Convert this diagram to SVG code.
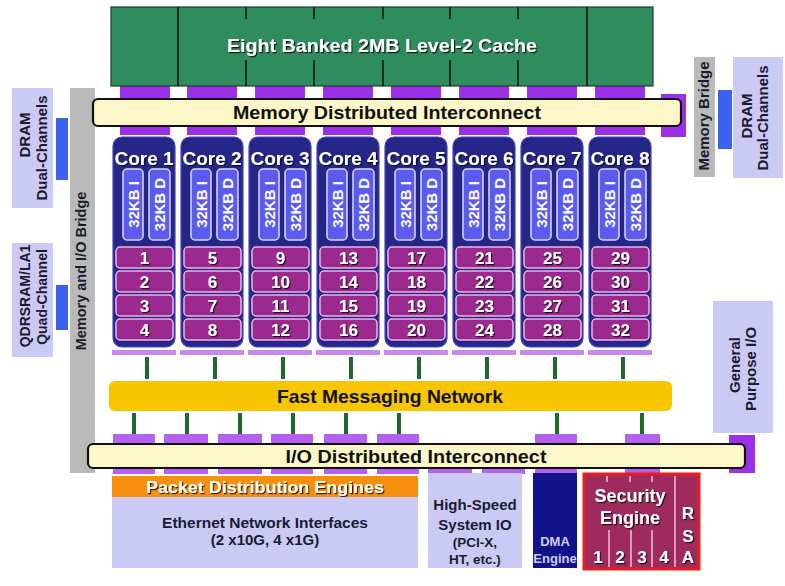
<svg xmlns="http://www.w3.org/2000/svg" width="785" height="586" viewBox="0 0 785 586">
<defs>
<filter id="sh" x="-10%" y="-20%" width="125%" height="150%">
<feDropShadow dx="1.2" dy="1.2" stdDeviation="0.6" flood-color="#000" flood-opacity="0.8"/>
</filter>
</defs>
<style>
text{font-family:"Liberation Sans",Arial,sans-serif;font-weight:bold;text-anchor:middle}
.core{fill:#262688;stroke:#4646b4;stroke-width:1.2}
.l1{fill:#5b5bef;stroke:#dcdcfa;stroke-width:1.5}
.th{fill:#9c2a8e;stroke:#e6b8e6;stroke-width:1.5}
.cl{font-size:19px;fill:#fff;filter:url(#sh)}
.n{font-size:17px;fill:#fff;filter:url(#sh)}
.kb{font-size:15px;fill:#fff}
.tab{fill:#9b30e8}
.iotab{fill:#b460f0}
.strip{fill:#c58af2}
.g{stroke:#1d6a2c;stroke-width:4}
.lav{fill:#cacaf4}
.blue{fill:#3a62ee}
.gray{fill:#b9b9b9}
.dk{fill:#1a1a30}
.bar{fill:#fbf7c8;stroke:#111;stroke-width:2.2}
.bt{font-size:19px;fill:#111}
.div{stroke:#111;stroke-width:1.5}
.sec{stroke:#eac4d6;stroke-width:1.5}
</style>
<rect width="785" height="586" fill="#fff"/>

<g id="memory-io-bridge">
<rect class="gray" x="70" y="88" width="25" height="385"/>
<text class="dk" font-size="14.5" transform="translate(86,271) rotate(-90)">Memory and I/O Bridge</text>
</g>

<g id="connectors">
<rect class="tab" x="120" y="86" width="50" height="49"/>
<rect class="tab" x="187" y="86" width="50" height="49"/>
<rect class="tab" x="255" y="86" width="50" height="49"/>
<rect class="tab" x="323" y="86" width="50" height="49"/>
<rect class="tab" x="391" y="86" width="50" height="49"/>
<rect class="tab" x="459" y="86" width="50" height="49"/>
<rect class="tab" x="527" y="86" width="50" height="49"/>
<rect class="tab" x="595" y="86" width="50" height="49"/>
<rect class="tab" x="661" y="94" width="25" height="43"/>
<rect class="strip" x="112" y="350" width="64" height="5"/>
<rect class="strip" x="180" y="350" width="64" height="5"/>
<rect class="strip" x="248" y="350" width="64" height="5"/>
<rect class="strip" x="316" y="350" width="64" height="5"/>
<rect class="strip" x="384" y="350" width="64" height="5"/>
<rect class="strip" x="452" y="350" width="64" height="5"/>
<rect class="strip" x="520" y="350" width="64" height="5"/>
<rect class="strip" x="588" y="350" width="64" height="5"/>
<line class="g" x1="147" y1="357" x2="147" y2="379"/>
<line class="g" x1="215" y1="357" x2="215" y2="379"/>
<line class="g" x1="283" y1="357" x2="283" y2="379"/>
<line class="g" x1="351" y1="357" x2="351" y2="379"/>
<line class="g" x1="419" y1="357" x2="419" y2="379"/>
<line class="g" x1="487" y1="357" x2="487" y2="379"/>
<line class="g" x1="555" y1="357" x2="555" y2="379"/>
<line class="g" x1="623" y1="357" x2="623" y2="379"/>
<line class="g" x1="134" y1="413" x2="134" y2="434"/>
<line class="g" x1="187" y1="413" x2="187" y2="434"/>
<line class="g" x1="240" y1="413" x2="240" y2="434"/>
<line class="g" x1="293" y1="413" x2="293" y2="434"/>
<line class="g" x1="346" y1="413" x2="346" y2="434"/>
<line class="g" x1="399" y1="413" x2="399" y2="434"/>
<line class="g" x1="557" y1="413" x2="557" y2="434"/>
<line class="g" x1="642" y1="413" x2="642" y2="434"/>
<rect class="iotab" x="113" y="434" width="42" height="40"/>
<rect class="iotab" x="164" y="434" width="44" height="40"/>
<rect class="iotab" x="218" y="434" width="44" height="40"/>
<rect class="iotab" x="271" y="434" width="42" height="40"/>
<rect class="iotab" x="324" y="434" width="43" height="40"/>
<rect class="iotab" x="377" y="434" width="42" height="40"/>
<rect class="iotab" x="428" y="460" width="44" height="14"/>
<rect class="iotab" x="482" y="460" width="43" height="14"/>
<rect class="iotab" x="535" y="434" width="42" height="40"/>
<rect class="iotab" x="625" y="434" width="35" height="40"/>
<rect class="tab" x="729" y="435" width="26" height="38"/>
</g>

<g id="l2-cache">
<rect x="111" y="7" width="542" height="79" fill="#2f8c5d" stroke="#1e3a2a" stroke-width="1.2"/>
<line class="div" x1="178" y1="7" x2="178" y2="86"/>
<line class="div" x1="587" y1="7" x2="587" y2="86"/>
<path class="div" d="M246 7V19M246 60V86M314 7V19M314 60V86M383 7V19M383 60V86M450 7V19M450 60V86M518 7V19M518 60V86"/>
<text x="382" y="52" font-size="19" fill="#fff" filter="url(#sh)" textLength="310" lengthAdjust="spacingAndGlyphs">Eight Banked 2MB Level-2 Cache</text>
</g>

<g id="memory-distributed-interconnect">
<rect class="bar" x="93" y="99" width="588" height="27" rx="5"/>
<text class="bt" x="387" y="119" textLength="308" lengthAdjust="spacingAndGlyphs">Memory Distributed Interconnect</text>
</g>

<g id="dram-left">
<rect class="lav" x="12" y="88" width="41" height="120"/>
<text class="dk" font-size="15" transform="translate(30,135) rotate(-90)">DRAM</text>
<text class="dk" font-size="15" transform="translate(47,148) rotate(-90)">Dual-Channels</text>
<rect class="blue" x="56" y="118" width="12" height="62"/>
</g>

<g id="qdrsram">
<rect class="lav" x="12" y="243" width="41" height="114"/>
<text class="dk" font-size="14" transform="translate(30,296) rotate(-90)">QDRSRAM/LA1</text>
<text class="dk" font-size="14" transform="translate(47,297) rotate(-90)">Quad-Channel</text>
<rect class="blue" x="56" y="285" width="12" height="45"/>
</g>

<g id="memory-bridge">
<rect class="gray" x="694" y="57" width="21" height="120"/>
<text class="dk" font-size="15" transform="translate(709,116) rotate(-90)">Memory Bridge</text>
<rect class="blue" x="718" y="90" width="14" height="59"/>
</g>

<g id="dram-right">
<rect class="lav" x="733" y="57" width="50" height="121"/>
<text class="dk" font-size="15" transform="translate(752,116) rotate(-90)">DRAM</text>
<text class="dk" font-size="15" transform="translate(768,118) rotate(-90)">Dual-Channels</text>
</g>

<g id="core1">
<rect class="core" x="113" y="137" width="62" height="210" rx="9"/>
<text class="cl" x="144" y="165">Core 1</text>
<rect class="l1" x="123" y="169" width="20" height="71" rx="4"/>
<rect class="l1" x="149" y="169" width="21" height="71" rx="4"/>
<text class="kb" transform="translate(138.5,204.5) rotate(-90)">32KB I</text>
<text class="kb" transform="translate(165,204.5) rotate(-90)">32KB D</text>
<rect class="th" x="116" y="247" width="57" height="21" rx="4"/>
<rect class="th" x="116" y="271" width="57" height="21" rx="4"/>
<rect class="th" x="116" y="295" width="57" height="21" rx="4"/>
<rect class="th" x="116" y="319" width="57" height="21" rx="4"/>
<text class="n" x="144.5" y="263.5">1</text>
<text class="n" x="144.5" y="287.5">2</text>
<text class="n" x="144.5" y="311.5">3</text>
<text class="n" x="144.5" y="335.5">4</text>
</g>

<g id="core2">
<rect class="core" x="181" y="137" width="62" height="210" rx="9"/>
<text class="cl" x="212" y="165">Core 2</text>
<rect class="l1" x="191" y="169" width="20" height="71" rx="4"/>
<rect class="l1" x="217" y="169" width="21" height="71" rx="4"/>
<text class="kb" transform="translate(206.5,204.5) rotate(-90)">32KB I</text>
<text class="kb" transform="translate(233,204.5) rotate(-90)">32KB D</text>
<rect class="th" x="184" y="247" width="57" height="21" rx="4"/>
<rect class="th" x="184" y="271" width="57" height="21" rx="4"/>
<rect class="th" x="184" y="295" width="57" height="21" rx="4"/>
<rect class="th" x="184" y="319" width="57" height="21" rx="4"/>
<text class="n" x="212.5" y="263.5">5</text>
<text class="n" x="212.5" y="287.5">6</text>
<text class="n" x="212.5" y="311.5">7</text>
<text class="n" x="212.5" y="335.5">8</text>
</g>

<g id="core3">
<rect class="core" x="249" y="137" width="62" height="210" rx="9"/>
<text class="cl" x="280" y="165">Core 3</text>
<rect class="l1" x="259" y="169" width="20" height="71" rx="4"/>
<rect class="l1" x="285" y="169" width="21" height="71" rx="4"/>
<text class="kb" transform="translate(274.5,204.5) rotate(-90)">32KB I</text>
<text class="kb" transform="translate(301,204.5) rotate(-90)">32KB D</text>
<rect class="th" x="252" y="247" width="57" height="21" rx="4"/>
<rect class="th" x="252" y="271" width="57" height="21" rx="4"/>
<rect class="th" x="252" y="295" width="57" height="21" rx="4"/>
<rect class="th" x="252" y="319" width="57" height="21" rx="4"/>
<text class="n" x="280.5" y="263.5">9</text>
<text class="n" x="280.5" y="287.5">10</text>
<text class="n" x="280.5" y="311.5">11</text>
<text class="n" x="280.5" y="335.5">12</text>
</g>

<g id="core4">
<rect class="core" x="317" y="137" width="62" height="210" rx="9"/>
<text class="cl" x="348" y="165">Core 4</text>
<rect class="l1" x="327" y="169" width="20" height="71" rx="4"/>
<rect class="l1" x="353" y="169" width="21" height="71" rx="4"/>
<text class="kb" transform="translate(342.5,204.5) rotate(-90)">32KB I</text>
<text class="kb" transform="translate(369,204.5) rotate(-90)">32KB D</text>
<rect class="th" x="320" y="247" width="57" height="21" rx="4"/>
<rect class="th" x="320" y="271" width="57" height="21" rx="4"/>
<rect class="th" x="320" y="295" width="57" height="21" rx="4"/>
<rect class="th" x="320" y="319" width="57" height="21" rx="4"/>
<text class="n" x="348.5" y="263.5">13</text>
<text class="n" x="348.5" y="287.5">14</text>
<text class="n" x="348.5" y="311.5">15</text>
<text class="n" x="348.5" y="335.5">16</text>
</g>

<g id="core5">
<rect class="core" x="385" y="137" width="62" height="210" rx="9"/>
<text class="cl" x="416" y="165">Core 5</text>
<rect class="l1" x="395" y="169" width="20" height="71" rx="4"/>
<rect class="l1" x="421" y="169" width="21" height="71" rx="4"/>
<text class="kb" transform="translate(410.5,204.5) rotate(-90)">32KB I</text>
<text class="kb" transform="translate(437,204.5) rotate(-90)">32KB D</text>
<rect class="th" x="388" y="247" width="57" height="21" rx="4"/>
<rect class="th" x="388" y="271" width="57" height="21" rx="4"/>
<rect class="th" x="388" y="295" width="57" height="21" rx="4"/>
<rect class="th" x="388" y="319" width="57" height="21" rx="4"/>
<text class="n" x="416.5" y="263.5">17</text>
<text class="n" x="416.5" y="287.5">18</text>
<text class="n" x="416.5" y="311.5">19</text>
<text class="n" x="416.5" y="335.5">20</text>
</g>

<g id="core6">
<rect class="core" x="453" y="137" width="62" height="210" rx="9"/>
<text class="cl" x="484" y="165">Core 6</text>
<rect class="l1" x="463" y="169" width="20" height="71" rx="4"/>
<rect class="l1" x="489" y="169" width="21" height="71" rx="4"/>
<text class="kb" transform="translate(478.5,204.5) rotate(-90)">32KB I</text>
<text class="kb" transform="translate(505,204.5) rotate(-90)">32KB D</text>
<rect class="th" x="456" y="247" width="57" height="21" rx="4"/>
<rect class="th" x="456" y="271" width="57" height="21" rx="4"/>
<rect class="th" x="456" y="295" width="57" height="21" rx="4"/>
<rect class="th" x="456" y="319" width="57" height="21" rx="4"/>
<text class="n" x="484.5" y="263.5">21</text>
<text class="n" x="484.5" y="287.5">22</text>
<text class="n" x="484.5" y="311.5">23</text>
<text class="n" x="484.5" y="335.5">24</text>
</g>

<g id="core7">
<rect class="core" x="521" y="137" width="62" height="210" rx="9"/>
<text class="cl" x="552" y="165">Core 7</text>
<rect class="l1" x="531" y="169" width="20" height="71" rx="4"/>
<rect class="l1" x="557" y="169" width="21" height="71" rx="4"/>
<text class="kb" transform="translate(546.5,204.5) rotate(-90)">32KB I</text>
<text class="kb" transform="translate(573,204.5) rotate(-90)">32KB D</text>
<rect class="th" x="524" y="247" width="57" height="21" rx="4"/>
<rect class="th" x="524" y="271" width="57" height="21" rx="4"/>
<rect class="th" x="524" y="295" width="57" height="21" rx="4"/>
<rect class="th" x="524" y="319" width="57" height="21" rx="4"/>
<text class="n" x="552.5" y="263.5">25</text>
<text class="n" x="552.5" y="287.5">26</text>
<text class="n" x="552.5" y="311.5">27</text>
<text class="n" x="552.5" y="335.5">28</text>
</g>

<g id="core8">
<rect class="core" x="589" y="137" width="62" height="210" rx="9"/>
<text class="cl" x="620" y="165">Core 8</text>
<rect class="l1" x="599" y="169" width="20" height="71" rx="4"/>
<rect class="l1" x="625" y="169" width="21" height="71" rx="4"/>
<text class="kb" transform="translate(614.5,204.5) rotate(-90)">32KB I</text>
<text class="kb" transform="translate(641,204.5) rotate(-90)">32KB D</text>
<rect class="th" x="592" y="247" width="57" height="21" rx="4"/>
<rect class="th" x="592" y="271" width="57" height="21" rx="4"/>
<rect class="th" x="592" y="295" width="57" height="21" rx="4"/>
<rect class="th" x="592" y="319" width="57" height="21" rx="4"/>
<text class="n" x="620.5" y="263.5">29</text>
<text class="n" x="620.5" y="287.5">30</text>
<text class="n" x="620.5" y="311.5">31</text>
<text class="n" x="620.5" y="335.5">32</text>
</g>

<g id="fast-messaging-network">
<rect x="109" y="381" width="563" height="30" rx="6" fill="#f8c600"/>
<text class="bt" x="390" y="403" textLength="226" lengthAdjust="spacingAndGlyphs">Fast Messaging Network</text>
</g>

<g id="general-purpose-io">
<rect class="lav" x="713" y="301" width="60" height="132"/>
<text class="dk" font-size="15" transform="translate(740,365) rotate(-90)">General</text>
<text class="dk" font-size="15" transform="translate(756,369) rotate(-90)">Purpose I/O</text>
</g>

<g id="io-distributed-interconnect">
<rect class="bar" x="88" y="444" width="657" height="24" rx="5"/>
<text class="bt" x="416" y="463" textLength="261" lengthAdjust="spacingAndGlyphs">I/O Distributed Interconnect</text>
</g>

<g id="packet-distribution-engines">
<rect x="112" y="476" width="306" height="21" fill="#f8900e"/>
<text x="265" y="493" font-size="17" fill="#fff" filter="url(#sh)" textLength="238" lengthAdjust="spacingAndGlyphs">Packet Distribution Engines</text>
</g>

<g id="ethernet-network-interfaces">
<rect class="lav" x="112" y="497" width="306" height="71"/>
<text class="dk" x="265" y="528" font-size="15.5">Ethernet Network Interfaces</text>
<text class="dk" x="265" y="545" font-size="15">(2 x10G, 4 x1G)</text>
</g>

<g id="high-speed-system-io">
<rect class="lav" x="428" y="473" width="94" height="95"/>
<text class="dk" x="475" y="510" font-size="15">High-Speed</text>
<text class="dk" x="475" y="530" font-size="15">System IO</text>
<text class="dk" x="475" y="547" font-size="13.5">(PCI-X,</text>
<text class="dk" x="475" y="564" font-size="13.5">HT, etc.)</text>
</g>

<g id="dma-engine">
<rect x="533" y="473" width="44" height="95" fill="#12128a"/>
<text x="555" y="546" font-size="13" fill="#d0d0f4">DMA</text>
<text x="555" y="563" font-size="13" fill="#d0d0f4">Engine</text>
</g>

<g id="security-engine">
<rect x="584" y="474" width="115" height="95" fill="#9e2a5e" stroke="#e4201e" stroke-width="3"/>
<line class="sec" x1="675" y1="476" x2="675" y2="567"/>
<path class="sec" d="M607 476V482M630 476V482M652 476V482M609 530V567M631 530V567M652 530V567"/>
<text x="630" y="502" font-size="18" fill="#fff" filter="url(#sh)">Security</text>
<text x="630" y="524" font-size="18" fill="#fff" filter="url(#sh)">Engine</text>
<text class="n" x="598" y="563">1</text>
<text class="n" x="620" y="563">2</text>
<text class="n" x="642" y="563">3</text>
<text class="n" x="664" y="563">4</text>
<text class="n" x="688" y="519">R</text>
<text class="n" x="688" y="542">S</text>
<text class="n" x="688" y="563">A</text>
</g>
</svg>
